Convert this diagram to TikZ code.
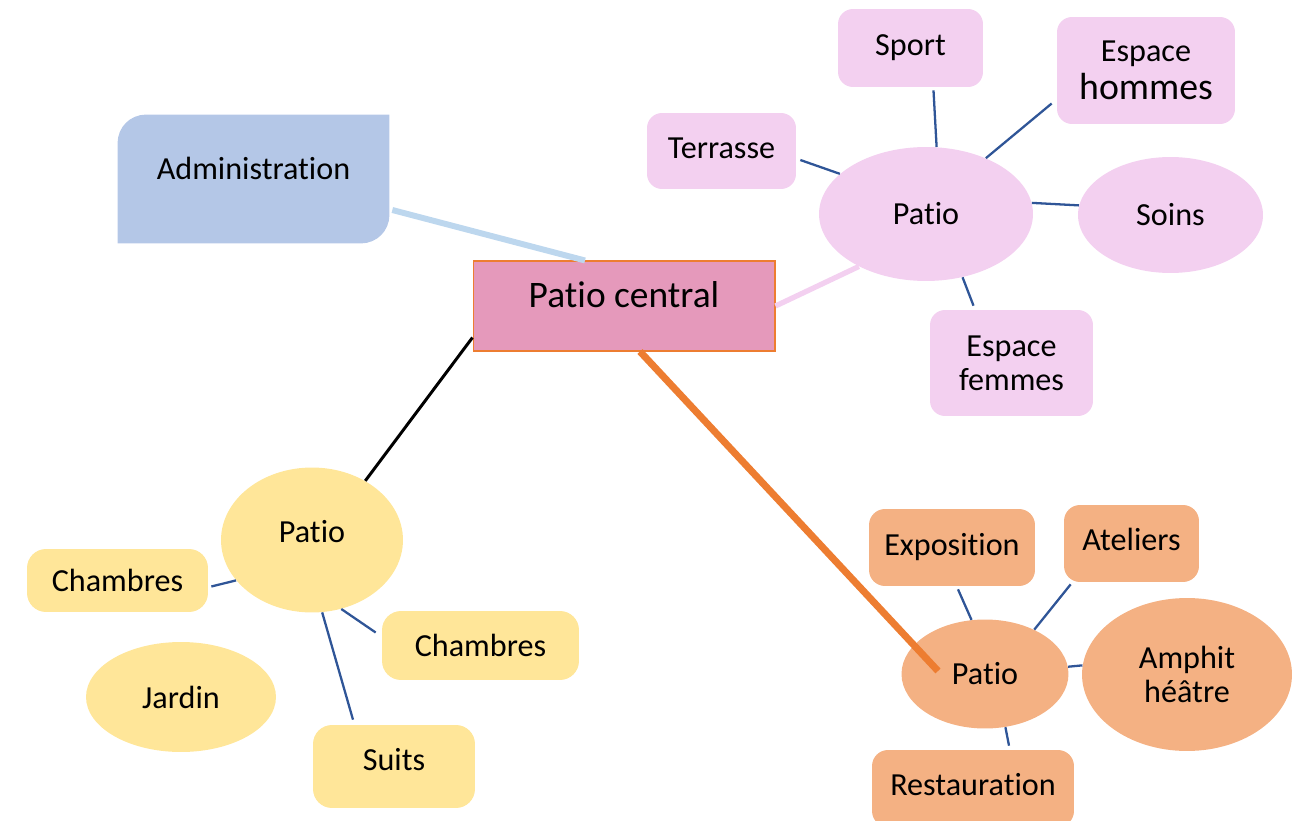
\documentclass[tikz,border=0pt]{standalone}
\usepackage{fontspec}
\setmainfont{Carlito}[Ligatures=NoCommon]
\usetikzlibrary{positioning,shapes.geometric,calc,backgrounds}
\definecolor{admblue}{RGB}{180,199,231}
\definecolor{admline}{RGB}{189,215,238}
\definecolor{centralpink}{RGB}{229,153,187}
\definecolor{brdorange}{RGB}{237,125,49}
\definecolor{lilac}{RGB}{243,208,240}
\definecolor{sand}{RGB}{255,230,153}
\definecolor{peach}{RGB}{244,177,131}
\definecolor{spokeblue}{RGB}{47,85,151}
\tikzset{
  lbl/.style={font=\fontsize{18.3}{19.5}\selectfont,align=center,inner sep=0pt},
  rbox/.style={lbl,rectangle,rounded corners=#1},
  rbox/.default=0.3cm,
  oval/.style={lbl,ellipse},
  lilacbox/.style={rbox=0.3cm,fill=lilac},
  peachbox/.style={rbox=0.32cm,fill=peach},
  sandbox/.style={rbox=0.38cm,fill=sand},
  spoke/.style={spokeblue,line width=1.3pt},
  admlink/.style={admline,line width=3.4pt},
  lilaclink/.style={lilac,line width=3pt},
  blacklink/.style={black,line width=1.7pt},
  orangelink/.style={brdorange,line width=4pt},
}
\begin{document}
\begin{tikzpicture}[x=0.02cm,y=-0.02cm]
\useasboundingbox (0,0) rectangle (1302,821);
\node[lbl,draw=brdorange,line width=0.6pt,fill=centralpink,font=\fontsize{21.3}{24}\selectfont,
      text depth=0.45cm,minimum width=6.04cm,minimum height=1.8cm] (central) at (624,306) {Patio central};
\node[lbl,text depth=0.42cm,minimum width=5.42cm,minimum height=2.56cm] (adm) at (253.5,179) {Administration};
\begin{scope}[on background layer]
  \fill[admblue] (adm.south west) -- ($(adm.north west)+(0,28)$) arc[start angle=180,end angle=90,radius=0.56cm]
    -- (adm.north east) -- ($(adm.south east)+(0,-28)$) arc[start angle=0,end angle=-90,radius=0.56cm] -- cycle;
\end{scope}

\node[oval,fill=lilac,minimum width=4.28cm,minimum height=2.68cm] (rpatio) at (926,214) {Patio};
\node[lilacbox,minimum width=2.9cm,minimum height=1.56cm] (sport) at (910.5,48) {Sport};
\node[lilacbox,minimum width=3.56cm,minimum height=2.14cm] (hommes) at (1146,70.5)
  {Espace\\[2pt]{\fontsize{21.5}{22}\selectfont hommes}};
\node[lilacbox,text depth=0.12cm,minimum width=2.98cm,minimum height=1.52cm] (terrasse) at (721.5,151) {Terrasse};
\node[oval,fill=lilac,minimum width=3.7cm,minimum height=2.32cm] (soins) at (1170.5,215) {Soins};
\node[lilacbox,minimum width=3.26cm,minimum height=2.12cm] (femmes) at (1011.5,363) {Espace\\femmes};

\node[oval,fill=peach,minimum width=3.34cm,minimum height=2.18cm] (opatio) at (985,674) {Patio};
\node[peachbox,minimum width=3.32cm,minimum height=1.54cm] (expo) at (952,547.5) {Exposition};
\node[peachbox,text depth=0.18cm,minimum width=2.7cm,minimum height=1.54cm] (ateliers) at (1131.5,543.5) {Ateliers};
\node[oval,fill=peach,minimum width=4.2cm,minimum height=3.06cm] (amphi) at (1187,674.5) {Amphit\\héâtre};
\node[peachbox,text depth=0.18cm,minimum width=4.04cm,minimum height=1.54cm] (resto) at (973,788.5) {Restauration};

\node[oval,fill=sand,text depth=0.36cm,minimum width=3.64cm,minimum height=2.9cm] (lpatio) at (312,540) {Patio};
\node[sandbox,minimum width=3.62cm,minimum height=1.26cm] (ch1) at (117.5,580.5) {Chambres};
\node[sandbox,minimum width=3.94cm,minimum height=1.38cm] (ch2) at (480.5,645.5) {Chambres};
\node[oval,fill=sand,minimum width=3.8cm,minimum height=2.2cm] (jardin) at (181,697) {Jardin};
\node[sandbox,text depth=0.3cm,minimum width=3.24cm,minimum height=1.66cm] (suits) at (394,766.5) {Suits};

\draw[admlink] ($(adm.east)+(3,31)$) -- ($(central.north)+(-39,0)$);
\draw[lilaclink] (central.east) -- (rpatio.218);
\draw[blacklink] ($(central.south west)+(0,-14)$) -- (lpatio.48);
\draw[orangelink] ($(central.south)+(16,0)$) -- ($(opatio.center)+(-47,-3)$);

\draw[spoke] ($(sport.south)+(23,3)$) -- (rpatio.81);
\draw[spoke] ($(hommes.west)+(-5,33)$) -- (rpatio.43);
\draw[spoke] ($(terrasse.east)+(4,9)$) -- (rpatio.155);
\draw[spoke] (rpatio.6) -- (soins.174);
\draw[spoke] (rpatio.-60) -- ($(femmes.north)+(-38,-4)$);

\draw[spoke] ($(expo.south)+(6,3)$) -- (opatio.104);
\draw[spoke] ($(ateliers.south west)+(7,2)$) -- (opatio.42);
\draw[spoke] (opatio.5) -- (amphi.175);
\draw[spoke] (opatio.-69) -- ($(resto.north)+(36,-4)$);

\draw[spoke] ($(ch1.east)+(3,6)$) -- (lpatio.208);
\draw[spoke] (lpatio.-67) -- ($(ch2.west)+(-6,-13)$);
\draw[spoke] (lpatio.-82) -- ($(suits.north)+(-41,-5)$);
\end{tikzpicture}
\end{document}
